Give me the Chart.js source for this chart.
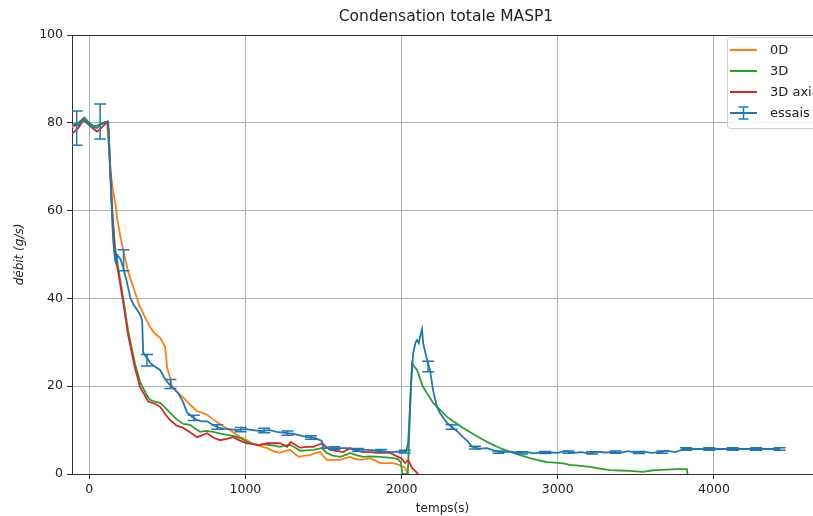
<!DOCTYPE html>
<html>
<head>
<meta charset="utf-8">
<script src="https://cdn.jsdelivr.net/npm/chart.js@4"></script>
<style>
  html, body { margin: 0; padding: 0; background: #fff; overflow: hidden; }
  #wrap { width: 813px; height: 516px; }
</style>
</head>
<body>
<div id="wrap"><canvas id="chart"></canvas></div>
<script>
// 0D
const x0D = [-110, -70, -30, 0, 30, 60, 90, 115, 125, 140, 155, 166, 180, 200, 218, 250, 282, 320, 360, 390, 420, 454, 486, 500, 518, 530, 560, 600, 640, 691, 720, 755, 790, 819, 860, 902, 940, 966, 1011, 1040, 1075, 1110, 1139, 1180, 1222, 1250, 1286, 1320, 1344, 1380, 1414, 1450, 1478, 1500, 1523, 1560, 1606, 1640, 1670, 1700, 1734, 1770, 1798, 1830, 1862, 1900, 1946, 1990, 2020, 2035, 2040];
const y0D = [79, 79.5, 81, 79.5, 79, 79.5, 80, 80, 75, 68, 64, 62, 58, 54, 51, 46, 42.6, 38.5, 35.5, 33.5, 32, 31, 29, 24, 22, 20, 18.8, 17.5, 16, 14.3, 14, 13.5, 12.5, 11.8, 10.8, 10, 9, 8.4, 7.7, 7, 6.6, 6.2, 5.9, 5.2, 4.8, 5.2, 5.5, 4.5, 3.9, 4.2, 4.3, 4.8, 5, 4, 3.2, 3.2, 3.2, 3.6, 3.9, 3.5, 3.2, 3.4, 3.6, 3.1, 2.5, 2.5, 2.5, 2, 1.5, 0.5, 0];

// 3D
const x3D = [-110, -70, -30, 0, 30, 60, 90, 120, 130, 147, 166, 186, 218, 250, 294, 326, 371, 390, 420, 454, 490, 518, 560, 602, 646, 680, 710, 750, 794, 840, 883, 920, 947, 980, 1011, 1040, 1075, 1110, 1158, 1190, 1222, 1255, 1286, 1320, 1350, 1390, 1434, 1465, 1491, 1520, 1560, 1606, 1640, 1670, 1710, 1754, 1800, 1862, 1900, 1946, 1975, 1995, 2005, 2040, 2050, 2060, 2067, 2080, 2099, 2120, 2138, 2170, 2202, 2250, 2291, 2340, 2394, 2450, 2502, 2560, 2611, 2660, 2714, 2770, 2822, 2880, 2931, 2980, 3034, 3078, 3130, 3206, 3270, 3334, 3400, 3462, 3546, 3600, 3635, 3700, 3763, 3827, 3830];
const y3D = [79.5, 80, 81.2, 80, 79.2, 79.5, 80, 80.3, 72, 60, 51.5, 47, 40, 32.5, 25, 21, 17.8, 16.9, 16.5, 16.2, 15, 13.9, 12.5, 11.4, 11.2, 10.3, 9.6, 9.8, 9.6, 9.2, 8.9, 8.7, 8.4, 8, 7.3, 7, 6.6, 6.8, 6.6, 6.4, 6.2, 6.5, 6.6, 6, 5.3, 5.4, 5.5, 5.7, 5.9, 4.8, 4.2, 3.9, 4.3, 4.8, 4.3, 3.9, 4, 3.9, 3.8, 3.6, 3.4, 2.7, 0, 0, 10, 20, 25.3, 24.5, 23.7, 21.5, 19.8, 18, 16.2, 14.5, 13, 11.8, 10.5, 9.3, 8.2, 7.1, 6.2, 5.5, 4.8, 4.2, 3.6, 3.1, 2.7, 2.6, 2.4, 2.1, 1.9, 1.6, 1.2, 0.9, 0.8, 0.7, 0.5, 0.8, 0.9, 1.0, 1.1, 1.1, 0];

// 3D axi
const x3Daxi = [-110, -70, -38, -10, 20, 51, 83, 115, 125, 134, 147, 166, 186, 218, 250, 294, 326, 378, 420, 454, 490, 518, 560, 602, 646, 691, 755, 800, 838, 880, 922, 965, 1011, 1050, 1094, 1140, 1178, 1222, 1267, 1290, 1350, 1390, 1434, 1465, 1491, 1542, 1590, 1626, 1670, 1710, 1754, 1800, 1843, 1890, 1926, 1978, 2000, 2022, 2042, 2067, 2090, 2106];
const y3Daxi = [77.5, 78.8, 80.6, 79.8, 78.8, 78, 79, 80.2, 78, 70, 60, 50, 46, 39, 31.5, 24, 19.8, 16.5, 16, 15.3, 13.5, 12.3, 11, 10.5, 9.5, 8.4, 9.3, 8.2, 7.7, 8, 8.4, 7.6, 7, 6.8, 6.6, 7, 7, 7, 6.2, 7.3, 6, 6.2, 6.2, 6.6, 7, 5.5, 5.2, 5, 5.9, 5.3, 5, 5, 4.8, 4.9, 4.8, 3.9, 3.5, 2.5, 3.2, 1.4, 0.6, 0];

// essais
const xEssais = [-110, -70, -38, -10, 19, 51, 70, 102, 122, 134, 147, 154, 166, 172, 180, 200, 218, 240, 262, 285, 307, 330, 339, 346, 370, 390, 420, 454, 480, 506, 540, 570, 600, 627, 660, 691, 720, 755, 790, 819, 860, 900, 947, 1000, 1050, 1100, 1158, 1200, 1267, 1300, 1350, 1395, 1440, 1478, 1490, 1498, 1560, 1651, 1700, 1779, 1850, 1926, 1970, 2010, 2030, 2042, 2060, 2074, 2090, 2099, 2110, 2120, 2131, 2138, 2150, 2163, 2182, 2202, 2227, 2246, 2291, 2330, 2360, 2394, 2430, 2451, 2500, 2547, 2590, 2630, 2700, 2750, 2800, 2850, 2900, 2950, 3000, 3050, 3100, 3150, 3200, 3250, 3300, 3350, 3400, 3450, 3500, 3550, 3600, 3650, 3700, 3750, 3790, 3800, 3900, 4000, 4100, 4200, 4300, 4420];
const yEssais = [79.5, 79.5, 81, 80, 79, 78.8, 79.5, 80.2, 80.2, 70, 58, 53, 48.7, 48, 49.9, 49, 47, 44, 40.3, 38.5, 37.4, 36, 35, 27.6, 26.5, 25.3, 24.5, 23.7, 22, 20.7, 19.5, 18.4, 16.5, 14, 13, 12.3, 12, 12, 11.2, 10.7, 10.3, 10.2, 10, 10.2, 10, 9.8, 10, 9.6, 9.3, 9.2, 8.8, 8.4, 8.3, 7.7, 7.5, 5.9, 5.9, 5.9, 5.6, 5.5, 5.3, 5, 5.1, 5, 5.2, 7, 20, 27.5, 30, 30.5, 29.8, 31.5, 33, 29.8, 28, 26, 23.7, 19, 15.3, 13.9, 11.6, 10.5, 9.6, 8.4, 7.2, 6.2, 5.8, 5.9, 5.4, 5, 5.1, 4.8, 5.0, 4.7, 5.0, 4.9, 4.8, 5.2, 4.8, 5.0, 4.7, 5.1, 4.9, 5.0, 4.8, 5.2, 4.9, 5.1, 4.8, 5.0, 5.3, 5.0, 5.4, 5.7, 5.7, 5.7, 5.7, 5.7, 5.7, 5.7];

// error bars on essais
const errX = [-80, 70, 220, 370, 520, 670, 820, 970, 1120, 1270, 1420, 1570, 1720, 1870, 2020, 2170, 2320, 2470, 2620, 2770, 2920, 3070, 3220, 3370, 3520, 3670, 3820, 3970, 4120, 4270, 4420];
const errY = [78.8, 80.3, 48.7, 25.9, 20.5, 12.8, 10.7, 10.1, 9.9, 9.3, 8.3, 5.9, 5.5, 5.3, 5.1, 24.5, 10.7, 6.0, 5.0, 4.8, 4.9, 5.0, 4.8, 5.0, 4.9, 5.0, 5.7, 5.7, 5.7, 5.7, 5.7];
const errD = [3.9, 4.0, 2.4, 1.3, 1.0, 0.6, 0.5, 0.5, 0.5, 0.5, 0.4, 0.3, 0.3, 0.3, 0.3, 1.2, 0.5, 0.3, 0.25, 0.25, 0.25, 0.25, 0.25, 0.25, 0.25, 0.25, 0.3, 0.3, 0.3, 0.3, 0.3];

const xTicks = [0, 1000, 2000, 3000, 4000];
const yTicks = [0, 20, 40, 60, 80, 100];

const FONT = "'DejaVu Sans', sans-serif";
const C = { blue: "#1f77b4", orange: "#ff7f0e", green: "#2ca02c", red: "#d62728" };

function pts(xs, ys) {
  return xs.map((x, i) => ({ x: x, y: ys[i] }));
}

const extras = {
  id: "extras",
  afterDatasetsDraw(chart) {
    const ctx = chart.ctx;
    const xs = chart.scales.x, ys = chart.scales.y;
    const a = chart.chartArea;
    // error bars
    ctx.save();
    ctx.beginPath();
    ctx.rect(a.left, a.top, a.right - a.left, a.bottom - a.top);
    ctx.clip();
    ctx.strokeStyle = C.blue;
    ctx.lineWidth = 1.5;
    errX.forEach((x, i) => {
      const px = xs.getPixelForValue(x);
      const top = ys.getPixelForValue(errY[i] + errD[i]);
      const bot = ys.getPixelForValue(errY[i] - errD[i]);
      ctx.beginPath();
      ctx.moveTo(px, top); ctx.lineTo(px, bot);
      ctx.moveTo(px - 6, top); ctx.lineTo(px + 6, top);
      ctx.moveTo(px - 6, bot); ctx.lineTo(px + 6, bot);
      ctx.stroke();
    });
    ctx.restore();
  },
  afterDraw(chart) {
    const ctx = chart.ctx;
    const a = chart.chartArea;
    ctx.save();
    // top spine (the right one lies outside the picture)
    ctx.strokeStyle = "#333";
    ctx.lineWidth = 1;
    ctx.beginPath();
    ctx.moveTo(a.left, a.top + 0.5); ctx.lineTo(a.right, a.top + 0.5);
    ctx.stroke();
    // title, centred on the full axes (which run a few px past the window)
    ctx.fillStyle = "#222";
    ctx.font = "15.5px " + FONT;
    ctx.textAlign = "center";
    ctx.textBaseline = "middle";
    ctx.fillText("Condensation totale MASP1", (a.left + a.right + 7) / 2, 17);
    // legend, cut by the right edge like the reference
    const lx = a.right - 86, ly = a.top + 2, lw = 100, lh = 91;
    ctx.fillStyle = "rgba(255,255,255,0.8)";
    ctx.strokeStyle = "#d0d0d0";
    ctx.beginPath();
    ctx.roundRect(lx + 0.5, ly + 0.5, lw, lh, 3);
    ctx.fill();
    ctx.stroke();
    const items = [["0D", C.orange], ["3D", C.green], ["3D axial", C.red], ["essais", C.blue]];
    ctx.font = "13px " + FONT;
    ctx.textAlign = "left";
    items.forEach((it, i) => {
      const cy = ly + 13 + i * 21;
      ctx.strokeStyle = it[1];
      ctx.lineWidth = 2;
      ctx.beginPath();
      ctx.moveTo(lx + 3, cy); ctx.lineTo(lx + 30, cy);
      ctx.stroke();
      if (i === 3) {
        ctx.lineWidth = 1.5;
        ctx.beginPath();
        const cx = lx + 16.5;
        ctx.moveTo(cx, cy - 6); ctx.lineTo(cx, cy + 6);
        ctx.moveTo(cx - 5, cy - 6); ctx.lineTo(cx + 5, cy - 6);
        ctx.moveTo(cx - 5, cy + 6); ctx.lineTo(cx + 5, cy + 6);
        ctx.stroke();
      }
      ctx.fillStyle = "#222";
      ctx.fillText(it[0], lx + 43, cy + 1);
    });
    ctx.restore();
  }
};

new Chart(document.getElementById("chart"), {
  type: "line",
  data: {
    datasets: [
      { label: "essais", data: pts(xEssais, yEssais), borderColor: C.blue, order: 0 },
      { label: "3D axi", data: pts(x3Daxi, y3Daxi), borderColor: C.red, order: 1 },
      { label: "3D", data: pts(x3D, y3D), borderColor: C.green, order: 2 },
      { label: "0D", data: pts(x0D, y0D), borderColor: C.orange, order: 3 }
    ]
  },
  options: {
    responsive: true,
    maintainAspectRatio: false,
    animation: false,
    elements: {
      point: { radius: 0 },
      line: { borderWidth: 1.8, tension: 0 }
    },
    layout: { padding: { top: 35, right: 0, left: 0, bottom: 0 } },
    plugins: { legend: { display: false }, title: { display: false }, tooltip: { enabled: false } },
    scales: {
      x: {
        type: "linear",
        min: -110,
        max: 4634,
        afterBuildTicks: s => { s.ticks = xTicks.map(v => ({ value: v })); },
        afterFit: s => { s.height = 42; },
        grid: { color: "#b0b0b0", lineWidth: 1, tickColor: "#333", tickLength: 5 },
        border: { color: "#333", width: 1 },
        ticks: { color: "#222", font: { family: FONT, size: 12.5 }, padding: 3, maxRotation: 0, callback: v => String(v) },
        title: { display: true, text: "temps(s)", color: "#222", font: { family: FONT, size: 12 }, padding: { top: 0, bottom: 0 } }
      },
      y: {
        min: 0,
        max: 100,
        afterBuildTicks: s => { s.ticks = yTicks.map(v => ({ value: v })); },
        afterFit: s => { s.width = 72; },
        grid: { color: "#b0b0b0", lineWidth: 1, tickColor: "#333", tickLength: 5 },
        border: { color: "#333", width: 1 },
        ticks: { color: "#222", font: { family: FONT, size: 12.5 }, padding: 4, callback: v => String(v) },
        title: { display: true, text: "débit (g/s)", color: "#222", font: { family: FONT, size: 12, style: "italic" }, padding: { top: 13, bottom: 0 } }
      }
    }
  },
  plugins: [extras]
});
</script>
</body>
</html>
